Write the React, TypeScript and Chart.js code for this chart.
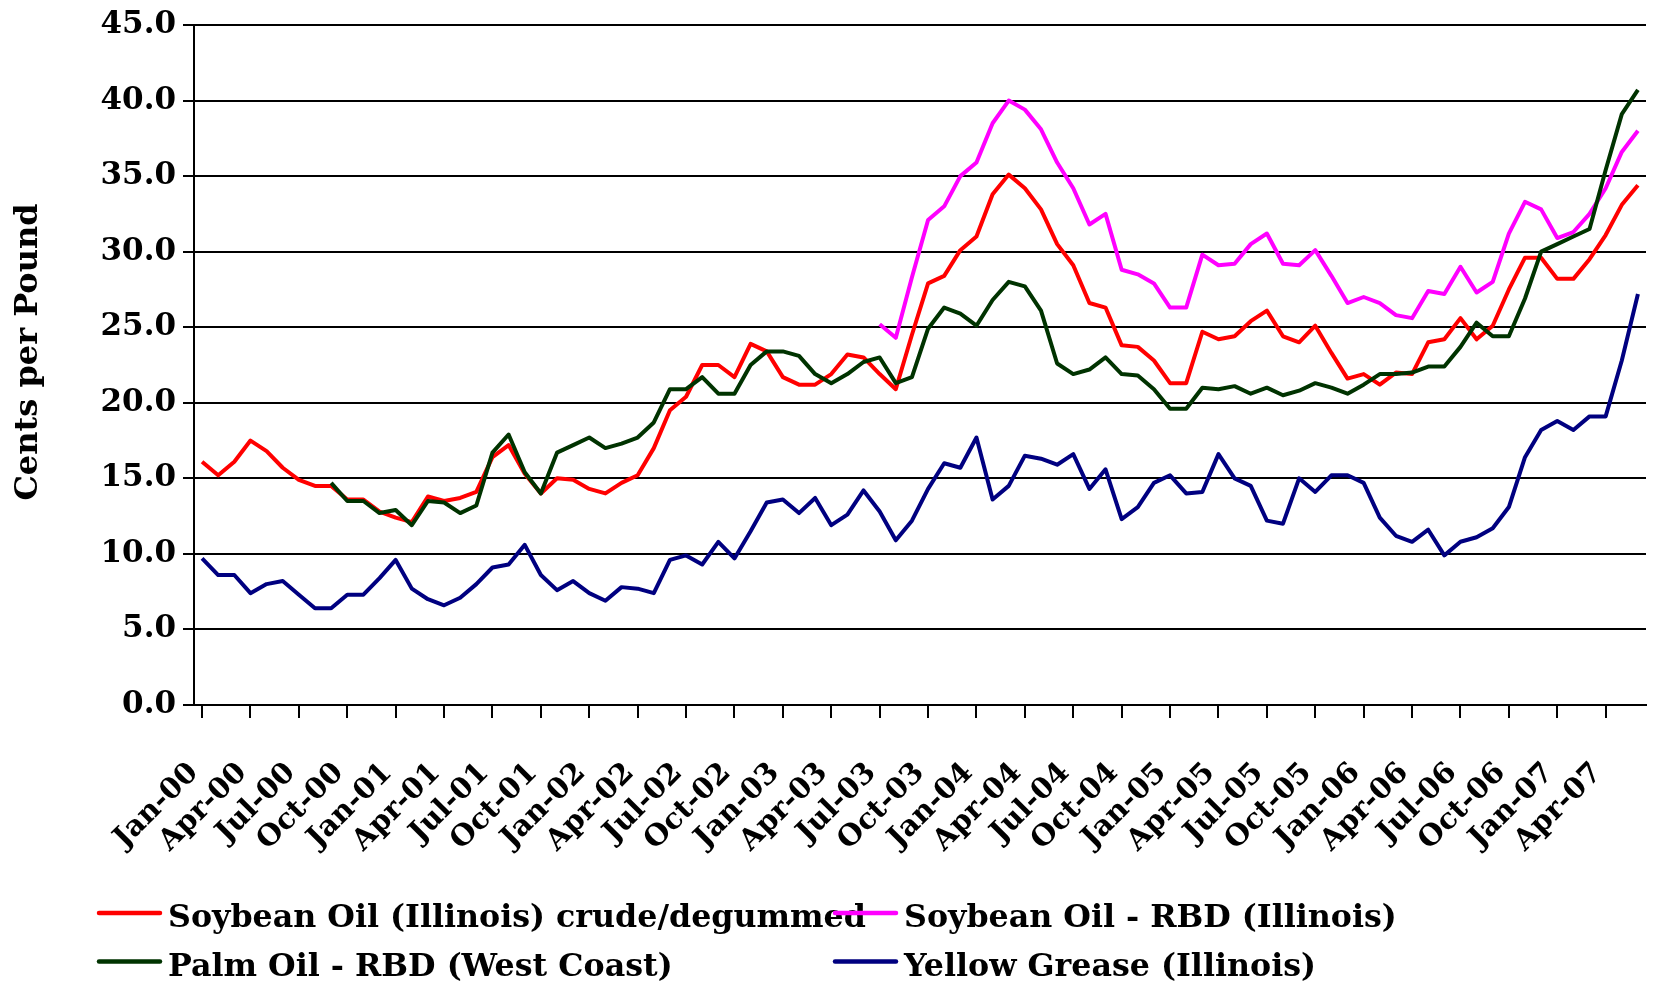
import React, { useEffect, useRef } from "react";
import { Chart, registerables } from "chart.js";

Chart.register(...registerables);

// ---------- data ----------
const MONTHS = ["Jan", "Feb", "Mar", "Apr", "May", "Jun", "Jul", "Aug", "Sep", "Oct", "Nov", "Dec"];
const YEARS = ["00", "01", "02", "03", "04", "05", "06", "07"];
const N_MONTHS = 90; // Jan-00 .. Jun-07
const CATEGORIES: string[] = [];
YEARS.forEach((y) => MONTHS.forEach((m) => CATEGORIES.push(`${m}-${y}`)));
CATEGORIES.length = N_MONTHS;

const Y_TICKS = [0, 5, 10, 15, 20, 25, 30, 35, 40, 45];
const Y_TITLE = "Cents per Pound";

const SERIES_NAMES = [
  "Soybean Oil (Illinois) crude/degummed",
  "Soybean Oil - RBD (Illinois)",
  "Palm Oil - RBD (West Coast)",
  "Yellow Grease (Illinois)",
];

const SOY_CRUDE = [
  16.1, 15.2, 16.1, 17.5, 16.8, 15.7, 14.9, 14.5, 14.5, 13.6, 13.6, 12.8,
  12.4, 12.1, 13.8, 13.5, 13.7, 14.1, 16.4, 17.2, 15.3, 14.0, 15.0, 14.9,
  14.3, 14.0, 14.7, 15.2, 17.0, 19.5, 20.4, 22.5, 22.5, 21.7, 23.9, 23.4,
  21.7, 21.2, 21.2, 21.9, 23.2, 23.0, 21.9, 20.9, 24.5, 27.9, 28.4, 30.1,
  31.0, 33.8, 35.1, 34.2, 32.8, 30.5, 29.1, 26.6, 26.3, 23.8, 23.7, 22.8,
  21.3, 21.3, 24.7, 24.2, 24.4, 25.4, 26.1, 24.4, 24.0, 25.1, 23.3, 21.6,
  21.9, 21.2, 22.0, 21.9, 24.0, 24.2, 25.6, 24.2, 25.1, 27.5, 29.6, 29.6,
  28.2, 28.2, 29.5, 31.1, 33.1, 34.4,
];

const SOY_RBD = [
  null, null, null, null, null, null, null, null, null, null, null, null,
  null, null, null, null, null, null, null, null, null, null, null, null,
  null, null, null, null, null, null, null, null, null, null, null, null,
  null, null, null, null, null, null, 25.2, 24.3, 28.3, 32.1, 33.0, 35.0,
  35.9, 38.5, 40.0, 39.4, 38.1, 35.9, 34.2, 31.8, 32.5, 28.8, 28.5, 27.9,
  26.3, 26.3, 29.8, 29.1, 29.2, 30.5, 31.2, 29.2, 29.1, 30.1, 28.4, 26.6,
  27.0, 26.6, 25.8, 25.6, 27.4, 27.2, 29.0, 27.3, 28.0, 31.2, 33.3, 32.8,
  30.9, 31.3, 32.5, 34.2, 36.6, 38.0,
];

const PALM_RBD = [
  null, null, null, null, null, null, null, null, 14.7, 13.5, 13.5, 12.7,
  12.9, 11.9, 13.5, 13.4, 12.7, 13.2, 16.7, 17.9, 15.4, 14.0, 16.7, 17.2,
  17.7, 17.0, 17.3, 17.7, 18.7, 20.9, 20.9, 21.7, 20.6, 20.6, 22.5, 23.4,
  23.4, 23.1, 21.9, 21.3, 21.9, 22.7, 23.0, 21.3, 21.7, 24.9, 26.3, 25.9,
  25.1, 26.8, 28.0, 27.7, 26.1, 22.6, 21.9, 22.2, 23.0, 21.9, 21.8, 20.9,
  19.6, 19.6, 21.0, 20.9, 21.1, 20.6, 21.0, 20.5, 20.8, 21.3, 21.0, 20.6,
  21.2, 21.9, 21.9, 22.0, 22.4, 22.4, 23.7, 25.3, 24.4, 24.4, 26.9, 30.0,
  30.5, 31.0, 31.5, 35.4, 39.1, 40.7,
];

const YELLOW_GREASE = [
  9.7, 8.6, 8.6, 7.4, 8.0, 8.2, 7.3, 6.4, 6.4, 7.3, 7.3, 8.4,
  9.6, 7.7, 7.0, 6.6, 7.1, 8.0, 9.1, 9.3, 10.6, 8.6, 7.6, 8.2,
  7.4, 6.9, 7.8, 7.7, 7.4, 9.6, 9.9, 9.3, 10.8, 9.7, 11.5, 13.4,
  13.6, 12.7, 13.7, 11.9, 12.6, 14.2, 12.8, 10.9, 12.2, 14.3, 16.0, 15.7,
  17.7, 13.6, 14.5, 16.5, 16.3, 15.9, 16.6, 14.3, 15.6, 12.3, 13.1, 14.7,
  15.2, 14.0, 14.1, 16.6, 15.0, 14.5, 12.2, 12.0, 15.0, 14.1, 15.2, 15.2,
  14.7, 12.4, 11.2, 10.8, 11.6, 9.9, 10.8, 11.1, 11.7, 13.1, 16.4, 18.2,
  18.8, 18.2, 19.1, 19.1, 22.8, 27.2,
];

// ---------- styles ----------
const COLORS = ["#FF0000", "#FF00FF", "#003300", "#000080"];
const FONT_FAMILY = "'DejaVu Serif', 'Liberation Serif', serif";
const W = 1658;
const H = 983;
const PLOT_LEFT = 194;
const PLOT_TOP = 25;
const PLOT_BOTTOM = 705;
const PLOT_RIGHT = 1646;
const LEGEND_POS = [
  { x: 97, line: 913, base: 927 },
  { x: 833, line: 913, base: 927 },
  { x: 97, line: 961.5, base: 975.5 },
  { x: 833, line: 961.5, base: 975.5 },
];
const TITLE_POS = { x: 28.5, y: 352 };

const overlayPlugin = {
  id: "overlay",
  afterDraw(chart: any) {
    const ctx = chart.ctx;
    ctx.save();
    // legend
    ctx.font = `bold 31.7px ${FONT_FAMILY}`;
    ctx.textBaseline = "alphabetic";
    ctx.textAlign = "left";
    chart.data.datasets.forEach((ds: any, i: number) => {
      const p = LEGEND_POS[i];
      ctx.strokeStyle = ds.borderColor;
      ctx.lineWidth = 4.5;
      ctx.lineCap = "round";
      ctx.beginPath();
      ctx.moveTo(p.x + 2, p.line);
      ctx.lineTo(p.x + 63, p.line);
      ctx.stroke();
      ctx.fillStyle = "#000";
      ctx.fillText(ds.label, p.x + 71, p.base);
    });
    // y axis title
    ctx.translate(TITLE_POS.x, TITLE_POS.y);
    ctx.rotate(-Math.PI / 2);
    ctx.font = `bold 32px ${FONT_FAMILY}`;
    ctx.textAlign = "center";
    ctx.textBaseline = "middle";
    ctx.fillStyle = "#000";
    ctx.fillText(Y_TITLE, 0, 0);
    ctx.restore();
  },
};

export default function App() {
  const canvasRef = useRef<HTMLCanvasElement | null>(null);

  useEffect(() => {
    if (!canvasRef.current) return;
    const seriesData = [SOY_CRUDE, SOY_RBD, PALM_RBD, YELLOW_GREASE];
    const chart = new Chart(canvasRef.current, {
      type: "line",
      data: {
        labels: CATEGORIES,
        datasets: SERIES_NAMES.map((name, i) => ({
          label: name,
          data: seriesData[i],
          borderColor: COLORS[i],
          backgroundColor: COLORS[i],
          borderWidth: 4,
          pointRadius: 0,
          tension: 0,
          spanGaps: false,
          borderJoinStyle: "round" as const,
          order: 4 - i,
        })),
      },
      options: {
        responsive: false,
        animation: false,
        layout: {
          padding: { left: 0, top: PLOT_TOP, right: W - PLOT_RIGHT, bottom: 0 },
        },
        plugins: {
          legend: { display: false },
          tooltip: { enabled: false },
          title: { display: false },
        },
        scales: {
          x: {
            type: "category",
            offset: true,
            grid: {
              display: true,
              drawOnChartArea: false,
              drawTicks: true,
              tickLength: 13,
              lineWidth: 2,
              color: (c: any) => (c.index % 3 === 0 ? "#000" : "rgba(0,0,0,0)"),
            },
            border: { display: true, color: "#000", width: 2 },
            ticks: {
              autoSkip: false,
              minRotation: 45,
              maxRotation: 45,
              padding: 38,
              labelOffset: -8,
              color: "#000",
              font: { family: FONT_FAMILY, size: 29, weight: "bold" },
              callback: (_v: any, idx: number) => (idx % 3 === 0 ? CATEGORIES[idx] : ""),
            },
            afterFit: (scale: any) => {
              scale.height = H - PLOT_BOTTOM;
              scale.paddingLeft = 0;
              scale.paddingRight = 0;
            },
          },
          y: {
            min: Y_TICKS[0],
            max: Y_TICKS[Y_TICKS.length - 1],
            grid: {
              color: "#000",
              lineWidth: 2,
              tickLength: 11,
              drawTicks: true,
            },
            border: { display: true, color: "#000", width: 2 },
            ticks: {
              stepSize: 5,
              padding: 7,
              color: "#000",
              font: { family: FONT_FAMILY, size: 31, weight: "bold" },
              callback: (v: any) => Number(v).toFixed(1),
            },
            afterFit: (scale: any) => {
              scale.width = PLOT_LEFT;
              scale.paddingTop = 0;
              scale.paddingBottom = 0;
            },
          },
        },
      },
      plugins: [overlayPlugin],
    });
    return () => chart.destroy();
  }, []);

  return (
    <div style={{ position: "absolute", left: 0, top: 0, width: W, height: H, background: "#fff" }}>
      <canvas ref={canvasRef} width={W} height={H} style={{ width: W, height: H, display: "block" }} />
    </div>
  );
}
